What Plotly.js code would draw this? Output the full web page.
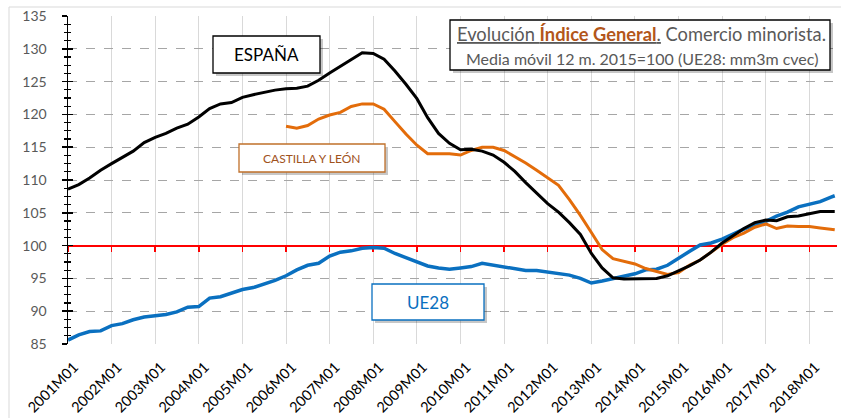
<!DOCTYPE html>
<html>
<head>
<meta charset="utf-8">
<script src="https://cdn.plot.ly/plotly-3.0.1.min.js"></script>
<style>
html,body{margin:0;padding:0;background:#fff;}
#chart{width:841px;height:418px;}
</style>
</head>
<body>
<div id="chart"></div>
<script>
// Quarterly readings (Jan, Apr, Jul, Oct) from 2001M01 to 2018M07, plus 2018M08
var dates = [];
for (var yr = 2001; yr <= 2018; yr++) {
  ['01','04','07','10'].forEach(function (m) {
    if (!(yr === 2018 && m === '10')) dates.push(yr + '-' + m + '-01');
  });
}
dates.push('2018-08-01');

var espana = [
  108.6,109.3,110.3,111.5,
  112.5,113.4,114.4,115.7,
  116.5,117.1,117.9,118.5,
  119.6,120.9,121.6,121.8,
  122.6,123.0,123.4,123.7,
  123.9,124.0,124.3,125.2,
  126.3,127.3,128.4,129.4,
  129.3,128.4,126.6,124.6,
  122.4,119.5,117.1,115.6,
  114.6,114.7,114.4,113.8,
  112.7,111.3,109.6,108.0,
  106.4,105.1,103.5,101.7,
  98.8,96.6,95.1,94.9,
  94.95,95.0,95.0,95.4,
  96.1,96.9,97.8,99.0,
  100.4,101.5,102.6,103.5,
  103.9,103.8,104.4,104.5,
  104.9,105.2,105.2,105.2
];

// Castilla y León starts 2006M01
var cylStart = '2006-01-01';
var cyl = [
  118.2,117.9,118.3,119.3,
  119.9,120.3,121.2,121.6,
  121.6,120.8,118.9,117.0,
  115.3,114.0,114.0,114.0,
  113.8,114.5,115.0,115.0,
  114.5,113.6,112.6,111.5,
  110.4,109.2,107.0,104.6,
  102.0,99.4,98.0,97.6,
  97.2,96.5,96.1,95.6,
  95.9,97.0,97.8,99.0,
  100.2,101.2,101.9,102.8,
  103.3,102.6,103.0,102.9,
  102.9,102.7,102.4,102.4
];

var ue28 = [
  85.6,86.4,86.9,87.0,
  87.8,88.1,88.7,89.1,
  89.3,89.5,89.9,90.6,
  90.7,92.0,92.2,92.7,
  93.3,93.6,94.1,94.7,
  95.4,96.3,97.0,97.3,
  98.4,99.0,99.2,99.6,
  99.7,99.6,98.8,98.2,
  97.6,96.9,96.6,96.4,
  96.6,96.8,97.3,97.0,
  96.8,96.5,96.2,96.2,
  96.0,95.7,95.5,95.0,
  94.3,94.6,95.0,95.3,
  95.7,96.3,96.4,97.0,
  98.1,99.1,100.1,100.4,
  101.0,101.8,102.5,103.2,
  103.7,104.5,105.1,105.9,
  106.3,106.7,107.4,107.6
];

var seriesNames = ['ESPAÑA', 'CASTILLA Y LEÓN', 'UE28'];
var colors = {esp: '#000000', cyl: '#e36c0a', ue: '#0a70c0'};

var xRange = ['2001-01-01', '2018-08-20'];
var yRange = [85, 135];
var baseValue = 100;
var cylDates = dates.slice(dates.indexOf(cylStart));

var traces = [
  {x: dates, y: ue28, type: 'scatter', mode: 'lines', name: seriesNames[2],
   line: {color: colors.ue, width: 3.5}, hoverinfo: 'skip'},
  {x: cylDates, y: cyl, type: 'scatter', mode: 'lines', name: seriesNames[1],
   line: {color: colors.cyl, width: 3}, hoverinfo: 'skip'},
  {x: dates, y: espana, type: 'scatter', mode: 'lines', name: seriesNames[0],
   line: {color: colors.esp, width: 3}, hoverinfo: 'skip'},
  {x: [], y: [], xaxis: 'x2', yaxis: 'y', type: 'scatter', showlegend: false},
  {x: [], y: [], xaxis: 'x', yaxis: 'y2', type: 'scatter', showlegend: false}
];

var L = 68, R = 4, T = 16, B = 74;
var W = 841 - L - R, H = 418 - T - B;
function px(x) { return (x - L) / W; }
function py(y) { return (418 - B - y) / H; }

var FONT = 'Lato, "Open Sans", sans-serif';

function box(x0, y0, x1, y1, color) {
  return [
    {type: 'rect', xref: 'paper', yref: 'paper', x0: px(x0 + 3), x1: px(x1 + 3), y0: py(y1 + 3), y1: py(y0 + 3),
     line: {width: 0}, fillcolor: 'rgba(0,0,0,0.22)', layer: 'above'},
    {type: 'rect', xref: 'paper', yref: 'paper', x0: px(x0), x1: px(x1), y0: py(y1), y1: py(y0),
     line: {width: 1.3, color: color}, fillcolor: '#ffffff', layer: 'above'}
  ];
}

var shapes = [
  {type: 'rect', xref: 'paper', yref: 'paper', x0: px(9), x1: px(860), y0: py(440), y1: py(7),
   line: {width: 1, color: '#d9d9d9'}, fillcolor: 'rgba(0,0,0,0)', layer: 'below'}
].concat(box(450, 20, 830, 70, '#000000'))
 .concat(box(213, 36, 320, 73, '#000000'))
 .concat(box(239, 144, 385, 172, '#c0702a'))
 .concat(box(372, 284, 484, 320, '#0a70c0'));

var annotations = [
  {xref: 'paper', yref: 'paper', x: px(641), y: py(34), showarrow: false, xanchor: 'center', yanchor: 'middle',
   text: '<span style="text-decoration:underline">Evolución <b style="color:#b3561a">Índice General</b>.</span> Comercio minorista.',
   font: {family: FONT, size: 18.3, color: '#595959'}},
  {xref: 'paper', yref: 'paper', x: px(642), y: py(58), showarrow: false, xanchor: 'center', yanchor: 'middle',
   text: 'Media móvil 12 m. 2015=100 (UE28: mm3m cvec)',
   font: {family: FONT, size: 16, color: '#595959'}},
  {xref: 'paper', yref: 'paper', x: px(266.5), y: py(54.5), showarrow: false, xanchor: 'center', yanchor: 'middle',
   text: seriesNames[0], font: {family: FONT, size: 17, color: '#000000'}},
  {xref: 'paper', yref: 'paper', x: px(312), y: py(158), showarrow: false, xanchor: 'center', yanchor: 'middle',
   text: seriesNames[1], font: {family: FONT, size: 12, color: '#a0521c'}},
  {xref: 'paper', yref: 'paper', x: px(428), y: py(302), showarrow: false, xanchor: 'center', yanchor: 'middle',
   text: seriesNames[2], font: {family: FONT, size: 17, color: '#0a70c0'}}
];

var layout = {
  width: 841, height: 418,
  margin: {l: L, r: R, t: T, b: B, pad: 0},
  paper_bgcolor: '#ffffff', plot_bgcolor: '#ffffff',
  showlegend: false,
  font: {family: FONT},
  xaxis: {
    type: 'date', range: xRange, tick0: '2001-01-01', dtick: 'M12', tickformat: '%YM%m',
    tickangle: -45, tickfont: {family: FONT, size: 14.5, color: '#000000'},
    showgrid: true, gridcolor: '#d9d9d9', gridwidth: 1,
    showline: false, zeroline: false, ticks: '', ticklen: 0, fixedrange: true,
    ticklabelstandoff: 11, ticklabelshift: 6
  },
  xaxis2: {
    type: 'date', range: xRange, tick0: '2001-01-01', dtick: 'M12', overlaying: 'x',
    anchor: 'free', position: (baseValue - yRange[0]) / (yRange[1] - yRange[0]),
    showticklabels: false, showgrid: false, zeroline: false,
    showline: true, linecolor: '#ff0000', linewidth: 2,
    ticks: 'outside', tickcolor: '#ff0000', ticklen: 5, tickwidth: 1.5, layer: 'below traces'
  },
  yaxis: {
    range: yRange, dtick: 5, tick0: 85,
    tickfont: {family: FONT, size: 14, color: '#595959'},
    showgrid: true, gridcolor: '#a6a6a6', griddash: 'dash', gridwidth: 1,
    showline: true, linecolor: '#000000', linewidth: 1.5, zeroline: false,
    ticks: 'outside', ticklen: 5, tickwidth: 1.5, tickcolor: '#000000',
    minor: {dtick: 1.25, tick0: 85, ticks: 'outside', ticklen: 3, tickwidth: 1.2, tickcolor: '#000000', showgrid: false},
    ticklabelstandoff: 12, fixedrange: true
  },
  yaxis2: {
    range: yRange, dtick: 5, tick0: 85, overlaying: 'y', side: 'left', anchor: 'x',
    showticklabels: false, showgrid: false, zeroline: false, showline: false,
    ticks: 'inside', ticklen: 5, tickwidth: 1.5, tickcolor: '#000000',
    minor: {dtick: 1.25, tick0: 85, ticks: 'inside', ticklen: 3, tickwidth: 1.2, tickcolor: '#000000', showgrid: false}
  },
  shapes: shapes,
  annotations: annotations
};

Plotly.newPlot('chart', traces, layout, {displayModeBar: false, staticPlot: true});
</script>
</body>
</html>
